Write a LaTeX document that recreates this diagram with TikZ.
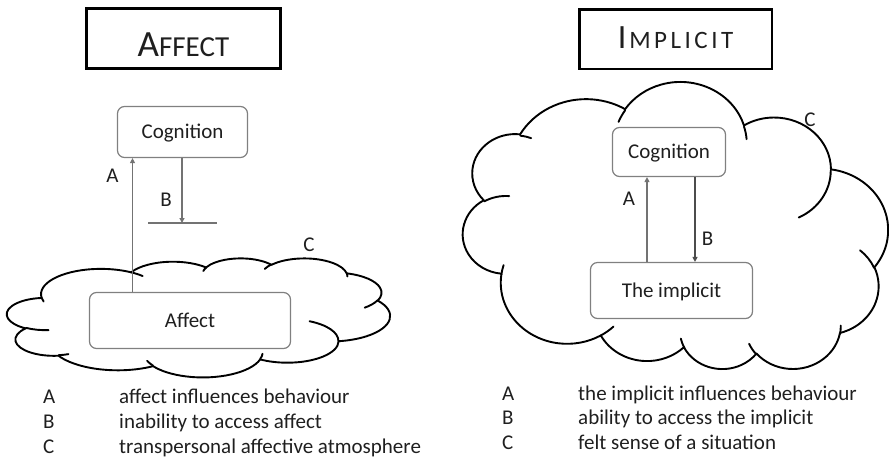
\documentclass[tikz,border=0pt]{standalone}
\usepackage{fontspec}
\setmainfont{Carlito}
\usetikzlibrary{arrows.meta}

% Elliptic arc in DrawingML style: radii wR, hR, start angle and sweep given as
% "visual" angles; converted to the parametric angles that TikZ's arc expects.
\newcommand\cldcalc[4]{%
  \pgfmathparse{atan2(#1*sin(#3),#2*cos(#3))}\xdef\cldts{\pgfmathresult}%
  \pgfmathparse{atan2(#1*sin(#3+#4),#2*cos(#3+#4))}\xdef\cldte{\pgfmathresult}%
  \pgfmathparse{\cldte-\cldts}%
  \ifdim #4pt>0pt
    \ifdim\pgfmathresult pt<0pt \pgfmathparse{\pgfmathresult+360}\fi
  \else
    \ifdim\pgfmathresult pt>0pt \pgfmathparse{\pgfmathresult-360}\fi
  \fi
  \xdef\cldd{\pgfmathresult}}
\newcommand\cldarc[4]{\pgfextra{\cldcalc{#1}{#2}{#3}{#4}}
  arc[start angle=\cldts, delta angle=\cldd, x radius=#1pt, y radius=#2pt]}

% Cloud outline on a 432 x 432 grid, plus the inner fold strokes
\newcommand\cloudshape{%
  \filldraw[cloudedge] (39.00,143.70)
    \cldarc{67.53}{91.90}{-190.4875}{123.7805}
    \cldarc{53.33}{72.67}{-144.1024}{89.9452}
    \cldarc{43.65}{59.45}{-145.8079}{99.7230}
    \cldarc{48.57}{65.95}{-130.9861}{117.2417}
    \cldarc{53.33}{72.73}{-78.7089}{109.0269}
    \cldarc{67.75}{92.20}{-46.2673}{130.2690}
    \cldarc{57.85}{78.67}{0.6250}{114.0333}
    \cldarc{67.52}{92.15}{22.4516}{115.1726}
    \cldarc{77.20}{105.43}{66.2426}{75.7110}
    \cldarc{43.60}{59.18}{-274.9421}{146.7356}
    \cldarc{43.45}{59.45}{-246.8285}{152.5189}
    -- cycle;
  \draw[cloudfold] (46.93,261.77) \cldarc{43.45}{59.45}{86.7420}{26.4295};
  \draw[cloudfold] (69.28,348.99) \cldarc{43.60}{59.18}{73.6105}{11.4475};
  \draw[cloudfold] (164.78,390.90) \cldarc{67.52}{92.15}{137.6242}{14.0811};
  \draw[cloudfold] (288.27,347.51) \cldarc{67.52}{92.15}{6.4533}{15.9984};
  \draw[cloudfold] (341.29,229.54) \cldarc{57.85}{78.67}{-70.2924}{70.9174};
  \draw[cloudfold] (417.98,153.54) \cldarc{53.33}{72.73}{30.3180}{27.7515};
  \draw[cloudfold] (383.24,54.26) \cldarc{48.57}{65.95}{-13.7443}{14.8589};
  \draw[cloudfold] (290.78,39.52) \cldarc{48.57}{65.95}{-149.1815}{18.1954};
  \draw[cloudfold] (221.41,47.20) \cldarc{43.65}{59.45}{-163.4943}{17.6864};
  \draw[cloudfold] (140.00,51.92) \cldarc{67.53}{91.90}{-66.7070}{12.3194};
  \draw[cloudfold] (41.27,157.89) \cldarc{67.53}{91.90}{157.6544}{11.8582};
}

\begin{document}
\begin{tikzpicture}[x=1pt, y=1pt, yscale=-1,
  every node/.style={text=black!88, inner sep=0pt},
  cloudedge/.style={draw=black, fill=white, line width=1.9pt, line join=round},
  cloudfold/.style={draw=black, line width=1.9pt, line cap=round},
  titlebox/.style={draw=black, text depth=0pt},
  roundbox/.style={draw=black!50, fill=white, line width=1.2pt, rounded corners=7pt,
    font=\fontsize{21}{21}\selectfont, text height=17pt, text depth=4pt},
  lbl/.style={font=\fontsize{21}{21}\selectfont},
  legend/.style={font=\fontsize{21}{21}\selectfont, anchor=base west},
  link/.style={draw=black!55, line width=1.2pt},
  arr/.style={link, -{Triangle[length=5pt, width=5pt]}}]

\path[use as bounding box] (0,0) rectangle (889,459);

% ---------------- left panel ----------------
\node[titlebox, line width=3pt, minimum width=194, minimum height=60, text height=35pt]
  (ttl1) at (183.5,38.5)
  {{\fontsize{37}{37}\selectfont A}{\fontsize{29}{29}\selectfont FFECT}};

\begin{scope}[shift={(7,258)}, xscale=0.88657, yscale=0.27546]
  \cloudshape
\end{scope}

\node[roundbox, minimum width=130, minimum height=51] (cog1) at (182.5,132) {Cognition};
\node[roundbox, minimum width=201, minimum height=56] (aff) at (190,320.5) {Affect};

\coordinate (xa1) at (132.5,0);
\coordinate (xb1) at (182,0);
\coordinate (barl) at (148,223);
\coordinate (barr) at (217,223);
\draw[arr] (xa1 |- aff.north) -- (xa1 |- cog1.south);
\draw[arr] (xb1 |- cog1.south) -- (xb1 |- barl);
\draw[link] (barl) -- (barr);

\node[lbl] (la1) at (112.5,175.5) {A};
\node[lbl] (lb1) at (166,200) {B};
\node[lbl] (lc1) at (309,245) {C};

\node[legend] (ka1) at (43,403) {A};
\node[legend] (kb1) at (43,428) {B};
\node[legend] (kc1) at (43,453) {C};
\node[legend] (ta1) at (119,403) {affect influences behaviour};
\node[legend] (tb1) at (119,428) {inability to access affect};
\node[legend] (tc1) at (119,453) {transpersonal affective atmosphere};

% ---------------- right panel ----------------
\node[titlebox, line width=2.5pt, minimum width=192.5, minimum height=59.5, text height=19pt]
  (ttl2) at (675.5,39)
  {{\fontsize{34}{34}\selectfont I}\kern3pt{\fontsize{25}{25}\selectfont
   M\kern3.5pt P\kern3.5pt L\kern3.5pt I\kern3.5pt C\kern3.5pt I\kern3.5pt T}};

% this cloud is the same outline turned upside down
\begin{scope}[shift={(463,370)}, xscale=0.98380, yscale=-0.66435]
  \cloudshape
\end{scope}

\node[roundbox, minimum width=113, minimum height=49] (cog2) at (669,152) {Cognition};
\node[roundbox, minimum width=162, minimum height=56] (impl) at (671.5,290.5) {The implicit};

\coordinate (xa2) at (647,0);
\coordinate (xb2) at (695,0);
\draw[arr] (xa2 |- impl.north) -- (xa2 |- cog2.south);
\draw[arr, draw=black!70] (xb2 |- cog2.south) -- (xb2 |- impl.north);

\node[lbl] (la2) at (629,199) {A};
\node[lbl] (lb2) at (707.5,238.5) {B};
\node[lbl] (lc2) at (810,120) {C};

\node[legend] (ka2) at (502,400) {A};
\node[legend] (kb2) at (502,424.5) {B};
\node[legend] (kc2) at (502,449) {C};
\node[legend] (ta2) at (578,400) {the implicit influences behaviour};
\node[legend] (tb2) at (578,424.5) {ability to access the implicit};
\node[legend] (tc2) at (578,449) {felt sense of a situation};
\end{tikzpicture}
\end{document}
